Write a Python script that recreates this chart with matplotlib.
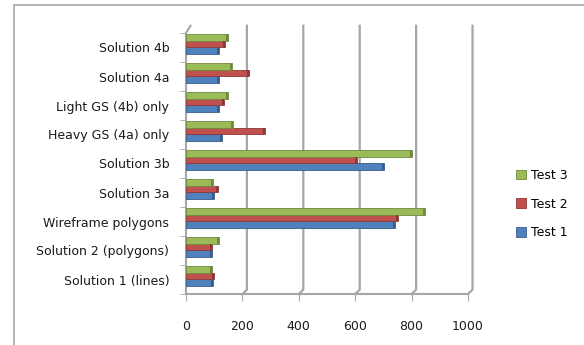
import numpy as np
import matplotlib.pyplot as plt
from matplotlib.patches import Rectangle

categories = ["Solution 1 (lines)", "Solution 2 (polygons)", "Wireframe polygons",
              "Solution 3a", "Solution 3b", "Heavy GS (4a) only",
              "Light GS (4b) only", "Solution 4a", "Solution 4b"]
test1 = [97, 92, 740, 100, 703, 127, 118, 118, 118]
test2 = [100, 92, 750, 115, 607, 279, 136, 225, 139]
test3 = [92, 118, 846, 95, 800, 165, 150, 163, 149]

series = [("Test 1", test1, "#4F81BD", "#385D8A"),
          ("Test 2", test2, "#C0504D", "#8C3836"),
          ("Test 3", test3, "#9BBB59", "#71893F")]

fig = plt.figure(figsize=(5.84, 3.45), dpi=100)
fig.patches.append(Rectangle((14 / 584, -0.1), 1.2, 1.1 - 5 / 345, transform=fig.transFigure,
                             fill=False, edgecolor="#A6A6A6", linewidth=1.2))
ax = fig.add_axes([186 / 584, 1 - 294 / 345, 282 / 584, 261 / 345])

y = np.arange(len(categories))
h = 0.23
off = 0.12
for i, (name, vals, col, dark) in enumerate(series):
    pos = y + (i - 1) * h + off
    ax.barh(pos, vals, height=h, color=col, edgecolor=dark, linewidth=0.6, label=name, zorder=3)
    # darker end cap for a bit of depth
    ax.barh(pos, [7] * len(vals), left=np.array(vals) - 7, height=h, color=dark,
            linewidth=0, zorder=4)

ax.set_xlim(0, 1000)
ax.set_ylim(-0.5, len(categories) - 0.5)
ax.set_xticks(np.arange(0, 1001, 200))
ax.set_yticks(y)
ax.set_yticklabels(categories)
ax.set_yticks(np.arange(-0.5, len(categories), 1), minor=True)

# back-wall gridlines, stepped back a little from the floor ticks
top = len(categories) - 0.25
for v in range(200, 1001, 200):
    ax.plot([v, v + 16, v + 16], [-0.5, -0.35, top], color="#A6A6A6", linewidth=1.6,
            zorder=1, clip_on=False, solid_joinstyle="miter")
ax.plot([0, 0, 16], [-0.5, len(categories) - 0.5, top], color="#A6A6A6", linewidth=1.5,
        zorder=2, clip_on=False)

for s in ["top", "right", "left"]:
    ax.spines[s].set_visible(False)
ax.spines["bottom"].set_color("#A6A6A6")
ax.spines["bottom"].set_linewidth(1.5)

ax.tick_params(axis="y", which="major", length=0, pad=12, labelsize=9, labelcolor="#1a1a1a")
ax.tick_params(axis="y", which="minor", length=4, color="#A6A6A6")
ax.tick_params(axis="x", length=5, color="#A6A6A6", pad=14, labelsize=9, labelcolor="#1a1a1a")

handles, labels = ax.get_legend_handles_labels()
fig.legend(handles[::-1], labels[::-1], loc="center left",
           bbox_to_anchor=(505 / 584, 1 - 204 / 345), frameon=False,
           fontsize=9, handlelength=0.8, handleheight=0.8, handletextpad=0.4,
           labelspacing=1.25)

fig.savefig("out.png", dpi=100)
